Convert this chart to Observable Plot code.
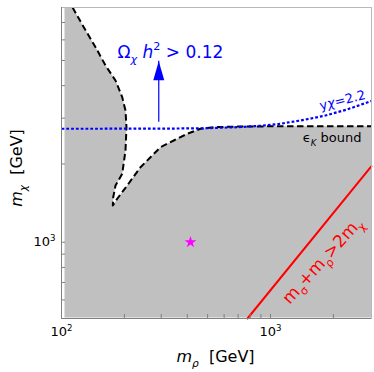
<!DOCTYPE html>
<html><head><meta charset="utf-8">
<script src="https://cdn.jsdelivr.net/npm/d3@7"></script>
<script src="https://cdn.jsdelivr.net/npm/@observablehq/plot@0.6"></script>
<style>body{margin:0;background:#fff} svg{display:block}</style>
</head><body><div id="chart"></div>
<script>
// ε_K bound contour (black dashed): left branch then lower branch
const epsLeftRho = [113, 127.8, 145.5, 162.4, 181.3, 195.2, 202.4, 204.6, 202.4, 195.2, 181.3, 176.8, 176];
const epsLeftChi = [7991, 6714, 5623, 4782, 4187, 3611, 3210, 2769, 2253, 1832, 1652, 1489, 1384];
const epsLowRho = [184.7, 206.2, 238.8, 266.6, 297.7, 344.5, 399.5, 462.4, 535.5, 718.7, 1000, 3043];
const epsLowChi = [1469, 1652, 1943, 2123, 2320, 2461, 2612, 2731, 2769, 2786, 2790, 2790];
// y_chi = 2.2 contour (blue dotted)
const yChiRho = [100, 300, 500, 700, 900, 1100, 1400, 1800, 2300, 3043];
const yChiChi = [2731, 2733, 2745, 2770, 2805, 2850, 2940, 3060, 3230, 3492];
// kinematic line m_sigma + m_rho = 2 m_chi (red)
const kinRho = [776, 3043];
const kinChi = [509, 1960];
// benchmark star
const starRho = [414];
const starChi = [1000];
// relic-density arrow
const arrowRho = [292];
const arrowChiFrom = [2894];
const arrowChiTo = [4960];
// ticks
const xMajor = [100, 1000];
const xMinor = [200, 300, 400, 500, 600, 700, 800, 900, 2000];
const yMajor = [1000];
const yMinor = [600, 700, 800, 900, 2000, 3000, 4000, 5000, 6000, 7000];
const xDomain = [100, 3043];
const yDomain = [509, 7991];
// annotation anchors (data coords)
const omegaAt = [185.3, 5385];
const yChiLabelAt = [2211, 3508];
const epsLabelAt = [2725, 2516];
const kinLabelAt = [1770, 850];

const zip = (xs, ys) => xs.map((x, i) => ({x, y: ys[i]}));
const epsBoundary = zip(epsLeftRho.concat(epsLowRho), epsLeftChi.concat(epsLowChi));
const allowed = epsBoundary.concat([{x: xDomain[1], y: yDomain[1]}, {x: epsLeftRho[0], y: yDomain[1]}]);
const yChiLine = zip(yChiRho, yChiChi);
const kinLine = zip(kinRho, kinChi);
const arrowHead = {draw(ctx) { const w = 5.5, h = 19; ctx.moveTo(0, 0); ctx.lineTo(w, h); ctx.lineTo(-w, h); ctx.closePath(); }};

const BLUE = "#0000ff", RED = "#ff0000", MAG = "#ff00ff", GRAY = "#c0c0c0", AX = "#808080";
const pow = d => "10^" + Math.round(Math.log10(d));

const plot = Plot.plot({
  width: 374, height: 372,
  marginLeft: 61, marginRight: 3, marginTop: 7, marginBottom: 54,
  style: {fontFamily: "'DejaVu Sans', sans-serif", fontSize: "12px", background: "white", overflow: "visible"},
  x: {type: "log", domain: xDomain, axis: null},
  y: {type: "log", domain: yDomain, axis: null},
  marks: [
    Plot.frame({fill: GRAY, insetLeft: 3, insetBottom: 1}),
    Plot.line(allowed, {x: "x", y: "y", fill: "white", stroke: "none"}),
    Plot.line(epsBoundary, {x: "x", y: "y", stroke: "black", strokeWidth: 2, strokeDasharray: "6.5,3.5", strokeLinecap: "butt"}),
    Plot.line(yChiLine, {x: "x", y: "y", stroke: BLUE, strokeWidth: 2.2, strokeDasharray: "2.8,2", strokeLinecap: "butt"}),
    Plot.line(kinLine, {x: "x", y: "y", stroke: RED, strokeWidth: 2}),
    Plot.ruleX(arrowRho, {x: d => d, y1: arrowChiFrom[0], y2: arrowChiTo[0], stroke: BLUE, strokeWidth: 1.2}),
    Plot.dot(arrowRho, {x: d => d, y: arrowChiTo[0], symbol: arrowHead, fill: BLUE, stroke: "none"}),
    Plot.dot(zip(starRho, starChi), {x: "x", y: "y", symbol: "star", r: 3.7, fill: MAG, stroke: "none"}),
    Plot.text(["Ωχ h2 > 0.12"], {x: omegaAt[0], y: omegaAt[1], text: d => d, fill: BLUE, fontSize: 17, textAnchor: "start"}),
    Plot.text(["yχ=2.2"], {x: yChiLabelAt[0], y: yChiLabelAt[1], text: d => d, fill: BLUE, fontSize: 13, rotate: -14}),
    Plot.text(["ϵK bound"], {x: epsLabelAt[0], y: epsLabelAt[1], text: d => d, fill: "black", fontSize: 13, textAnchor: "end"}),
    Plot.text(["mσ+mρ>2mχ"], {x: kinLabelAt[0], y: kinLabelAt[1], text: d => d, fill: RED, fontSize: 17, rotate: -48}),
    Plot.frame({stroke: "#b8b8b8"}),
    Plot.ruleX([xDomain[0]], {stroke: AX}),
    Plot.ruleY([yDomain[0]], {stroke: AX}),
    Plot.ruleX(xMajor.concat(xMinor), {insetTop: 307, stroke: AX}),
    Plot.ruleY(yMajor.concat(yMinor), {insetRight: 306, stroke: AX}),
    Plot.text(xMajor, {x: d => d, frameAnchor: "bottom", dy: 13.5, text: pow, fontSize: 13, textAnchor: "middle", lineAnchor: "middle"}),
    Plot.text(yMajor, {y: d => d, frameAnchor: "left", dx: -6, text: pow, fontSize: 13, textAnchor: "end", lineAnchor: "middle"}),
    Plot.text(["mρ [GeV]"], {frameAnchor: "bottom", dy: 38.6, dx: -1, text: d => d, fontSize: 16, textAnchor: "middle", lineAnchor: "middle"}),
    Plot.text(["mχ [GeV]"], {frameAnchor: "left", dx: -44.6, dy: 5, rotate: -90, text: d => d, fontSize: 16, textAnchor: "middle", lineAnchor: "middle"})
  ]
});
document.getElementById("chart").appendChild(plot);

const NB = "\u00a0";
const RICH = {
  "10^2": [{t: "10"}, {t: "2", sup: 1}],
  "10^3": [{t: "10"}, {t: "3", sup: 1}],
  "Ωχ h2 > 0.12": [{t: "Ω"}, {t: "χ", sub: 1, it: 1}, {t: NB + "h", it: 1}, {t: "2", sup: 1}, {t: " > 0.12"}],
  "yχ=2.2": [{t: "y"}, {t: "χ", it: 1}, {t: "=2.2"}],
  "ϵK bound": [{t: "ϵ"}, {t: "K", sub: 1, it: 1}, {t: " bound"}],
  "mσ+mρ>2mχ": [{t: "m"}, {t: "σ", sub: 1}, {t: "+m"}, {t: "ρ", sub: 1}, {t: ">2m"}, {t: "χ", sub: 1}],
  "mρ [GeV]": [{t: "m", it: 1}, {t: "ρ", sub: 1, it: 1}, {t: NB + NB + "[GeV]"}],
  "mχ [GeV]": [{t: "m", it: 1}, {t: "χ", sub: 1, it: 1}, {t: NB + NB + "[GeV]"}]
};
const NS = "http://www.w3.org/2000/svg";
d3.select(plot).selectAll("text").each(function() {
  const parts = RICH[this.textContent];
  if (!parts) return;
  const fs = parseFloat(getComputedStyle(this).fontSize) || 12;
  this.textContent = "";
  let cur = 0;
  for (const p of parts) {
    const ts = document.createElementNS(NS, "tspan");
    const target = p.sub ? 0.3 * fs : p.sup ? -0.42 * fs : 0;
    if (target !== cur) { ts.setAttribute("dy", (target - cur).toFixed(2)); cur = target; }
    if (p.sub || p.sup) ts.setAttribute("font-size", (0.66 * fs).toFixed(1));
    if (p.it) ts.setAttribute("font-style", "italic");
    ts.textContent = p.t;
    this.appendChild(ts);
  }
});
</script>
</body></html>
